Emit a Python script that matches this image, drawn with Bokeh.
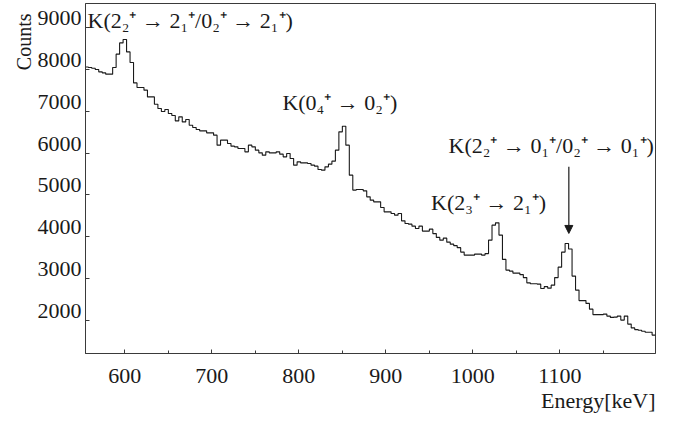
from bokeh.plotting import figure
from bokeh.models import Range1d, FixedTicker, Label, Arrow, NormalHead, Title
from bokeh.embed import file_html
from bokeh.resources import INLINE

# ---- data -------------------------------------------------------------
bin_start = 554          # keV, left edge of first bin
bin_width = 4            # keV
counts = [
    8062, 8052, 8035, 8004, 7947, 7923, 7892, 7892, 8052, 8371,
    8641, 8723, 8426, 8172, 7683, 7573, 7573, 7509, 7348, 7348,
    7173, 7070, 6998, 7046, 6950, 6903, 6773, 6869, 6749, 6807,
    6670, 6615, 6567, 6534, 6534, 6486, 6486, 6431, 6191, 6311,
    6311, 6232, 6167, 6151, 6112, 6112, 6031, 6191, 6151, 6072,
    6007, 5952, 6031, 6007, 6007, 6031, 5976, 5911, 5992, 5873,
    5712, 5791, 5767, 5767, 5753, 5712, 5688, 5609, 5593, 5672,
    5736, 5808, 6072, 6510, 6646, 6191, 5473, 5114, 5130, 5130,
    5097, 4953, 4874, 4833, 4833, 4699, 4594, 4594, 4555, 4515,
    4555, 4378, 4316, 4299, 4251, 4196, 4251, 4132, 4132, 4179,
    4072, 3981, 3916, 3964, 3868, 3820, 3784, 3736, 3629, 3557,
    3557, 3557, 3581, 3581, 3557, 3593, 3916, 4275, 4330, 4036,
    3454, 3198, 3174, 3126, 3126, 3090, 3018, 2893, 2872, 2872,
    2862, 2759, 2802, 2766, 2838, 3018, 3269, 3629, 3837, 3705,
    3054, 2719, 2467, 2467, 2400, 2263, 2132, 2132, 2132, 2144,
    2096, 2065, 2072, 2096, 2000, 2096, 1904, 1813, 1772, 1756,
    1732, 1708, 1708, 1641,
]
edges = [bin_start + bin_width * i for i in range(len(counts) + 1)]

x_limits = (554.8, 1209.9)
y_limits = (1200, 9585)
x_major_ticks = [600, 700, 800, 900, 1000, 1100]
x_minor_ticks = [650, 750, 850, 950, 1050, 1150]
y_major_ticks = [2000, 3000, 4000, 5000, 6000, 7000, 8000, 9000]

ann_texts = [
    "K(2₂⁺ → 2₁⁺/0₂⁺ → 2₁⁺)",
    "K(0₄⁺ → 0₂⁺)",
    "K(2₃⁺ → 2₁⁺)",
    "K(2₂⁺ → 0₁⁺/0₂⁺ → 0₁⁺)",
]
ann_x = [557.1, 847.1, 1018.0, 1208.0]
ann_y = [8986, 7030, 4635, 5992]
ann_align = ["left", "center", "center", "right"]

arrow_x = 1110.3
arrow_y = (5672, 4076)

FONT = "Liberation Serif"
INK = "#1a1a1a"

# ---- figure -----------------------------------------------------------
p = figure(width=680, height=421,
           x_range=Range1d(*x_limits), y_range=Range1d(*y_limits),
           toolbar_location=None, output_backend="svg", title=None,
           min_border_left=85, min_border_right=25,
           min_border_top=3, min_border_bottom=68)
p.xgrid.visible = False
p.ygrid.visible = False
p.background_fill_color = "white"
p.border_fill_color = "white"
p.outline_line_color = "#3a3a3a"
p.outline_line_width = 1

p.step(x=edges, y=counts + [counts[-1]], mode="after",
       line_color=INK, line_width=1.1)

p.xaxis.ticker = FixedTicker(ticks=x_major_ticks, minor_ticks=x_minor_ticks)
p.yaxis.ticker = FixedTicker(ticks=y_major_ticks, minor_ticks=[])

for ax in (p.xaxis[0], p.yaxis[0]):
    ax.major_label_text_font = FONT
    ax.major_label_text_font_size = "22px"
    ax.major_label_text_color = INK
    ax.axis_line_color = "#3a3a3a"
    ax.major_tick_line_color = "#3a3a3a"
    ax.minor_tick_line_color = "#3a3a3a"
    ax.major_tick_in = 4
    ax.major_tick_out = 0
    ax.minor_tick_in = 3
    ax.minor_tick_out = 0
p.xaxis.major_label_standoff = 15
p.yaxis.major_label_standoff = 4
# tick labels sit just above their tick (as in the original)
p.yaxis.major_label_text_line_height = 0.8
p.yaxis.major_label_overrides = {t: f"{t}\n " for t in y_major_ticks}

# axis titles
p.add_layout(Title(text="Energy[keV]", align="right", text_font=FONT,
                   text_font_size="22px", text_font_style="normal",
                   text_color=INK, standoff=0, offset=0), "below")
p.add_layout(Title(text="Counts", align="right", text_font=FONT,
                   text_font_size="20px", text_font_style="normal",
                   text_color=INK, standoff=0, offset=10), "left")

# peak annotations
for t, x, y, a in zip(ann_texts, ann_x, ann_y, ann_align):
    p.add_layout(Label(x=x, y=y, y_offset=8, text=t, text_font=FONT,
                       text_font_size="22px", text_color=INK,
                       text_align=a, text_baseline="alphabetic"))

p.add_layout(Arrow(end=NormalHead(size=8, fill_color=INK, line_color=INK),
                   x_start=arrow_x, y_start=arrow_y[0],
                   x_end=arrow_x, y_end=arrow_y[1],
                   line_color=INK, line_width=1.2))

open("out.html", "w").write(file_html(p, INLINE))
